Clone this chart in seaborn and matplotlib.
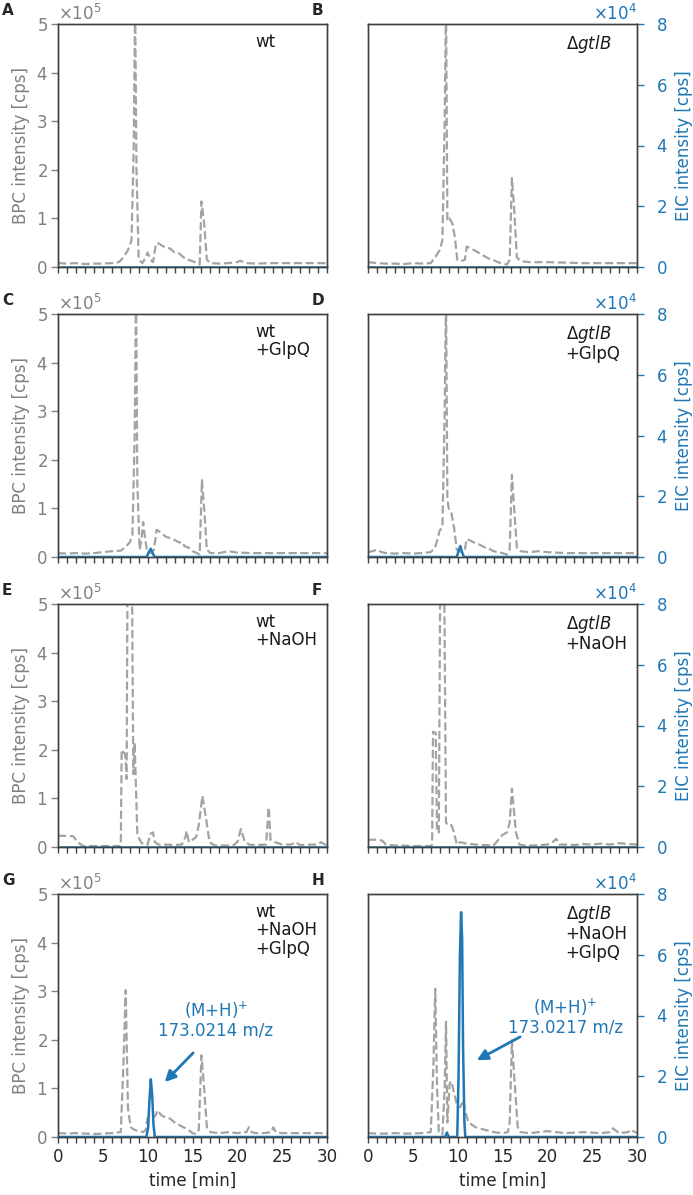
import numpy as np
import pandas as pd
import matplotlib
matplotlib.use("Agg")
import matplotlib.pyplot as plt
import seaborn as sns
from matplotlib.ticker import MultipleLocator

sns.set_style("ticks")
plt.rcParams["font.family"] = ["DejaVu Sans"]
plt.rcParams["mathtext.fontset"] = "dejavusans"

# ---------------- data (BPC in 1e5 cps, EIC in 1e4 cps, time in min) ----------------
A_bpc_t = [0, 1, 2, 3, 4, 5, 6, 6.8, 7.3, 7.8, 8.2, 8.45, 8.6, 8.75, 9.0, 9.4, 9.8, 10.0, 10.3, 10.6, 10.9, 11.1,
           11.5, 12.0, 12.5, 13.0, 13.5, 14.0, 14.5, 15.0, 15.5, 15.8, 16.0, 16.3, 16.6, 17.0, 18, 19, 20, 20.3,
           21, 22, 24, 26, 28, 30]
A_bpc_v = [0.08, 0.07, 0.08, 0.06, 0.07, 0.07, 0.08, 0.1, 0.2, 0.35, 0.55, 2.5, 5.5, 2.0, 0.15, 0.08, 0.2, 0.3,
           0.15, 0.1, 0.45, 0.5, 0.45, 0.4, 0.38, 0.3, 0.28, 0.2, 0.15, 0.12, 0.08, 0.05, 1.35, 0.9, 0.15, 0.08,
           0.07, 0.08, 0.1, 0.13, 0.08, 0.07, 0.08, 0.08, 0.08, 0.08]
A_eic_t = [0, 30]
A_eic_v = [0, 0]

B_bpc_t = [0, 1, 2, 3, 4, 5, 6, 7, 7.5, 8.0, 8.3, 8.55, 8.7, 8.85, 9.1, 9.4, 9.7, 9.95, 10.4, 10.8, 11.0, 11.5,
           12, 12.5, 13, 13.5, 14, 14.5, 15, 15.5, 15.8, 16.05, 16.3, 16.6, 17, 18, 20, 22, 24, 26, 28, 30]
B_bpc_v = [0.1, 0.08, 0.07, 0.07, 0.06, 0.08, 0.07, 0.08, 0.2, 0.35, 0.55, 3.0, 5.5, 0.95, 1.0, 0.9, 0.6, 0.15,
           0.12, 0.15, 0.42, 0.38, 0.33, 0.28, 0.22, 0.17, 0.14, 0.1, 0.07, 0.05, 0.15, 1.83, 1.2, 0.2, 0.12, 0.1,
           0.1, 0.09, 0.08, 0.08, 0.08, 0.08]
B_eic_t = [0, 30]
B_eic_v = [0, 0]

C_bpc_t = [0, 1, 2, 3, 4, 5, 6, 7, 7.5, 8.0, 8.3, 8.55, 8.7, 8.85, 9.1, 9.3, 9.5, 9.7, 9.95, 10.3, 10.7, 11.0,
           11.5, 12, 12.8, 13.5, 13.9, 14.1, 14.5, 15, 15.5, 15.8, 16.05, 16.3, 16.6, 17, 18, 19, 20, 22, 24, 26,
           28, 30]
C_bpc_v = [0.08, 0.07, 0.08, 0.07, 0.08, 0.1, 0.12, 0.13, 0.2, 0.3, 0.45, 2.5, 5.5, 1.5, 0.15, 0.35, 0.72, 0.4,
           0.1, 0.08, 0.15, 0.56, 0.5, 0.42, 0.37, 0.3, 0.3, 0.22, 0.2, 0.12, 0.08, 0.05, 1.58, 1.0, 0.15, 0.08,
           0.08, 0.12, 0.09, 0.08, 0.08, 0.08, 0.08, 0.08]
C_eic_t = [0, 9.9, 10.1, 10.35, 10.6, 10.8, 30]
C_eic_v = [0, 0, 0.15, 0.27, 0.1, 0, 0]

D_bpc_t = [0, 0.5, 1.0, 1.5, 2, 3, 4, 5, 6, 7, 7.5, 8.0, 8.3, 8.55, 8.7, 8.85, 9.0, 9.3, 9.6, 9.9, 10.4, 10.8,
           11.0, 11.5, 12, 12.5, 13, 13.5, 14, 14.5, 15, 15.5, 15.8, 16.05, 16.3, 16.6, 17, 18, 19, 20, 22, 24,
           26, 28, 30]
D_bpc_v = [0.1, 0.12, 0.15, 0.1, 0.08, 0.07, 0.08, 0.07, 0.08, 0.1, 0.2, 0.55, 0.6, 3.0, 5.5, 1.2, 1.0, 0.9,
           0.6, 0.15, 0.1, 0.15, 0.37, 0.33, 0.28, 0.25, 0.2, 0.17, 0.12, 0.1, 0.08, 0.05, 0.15, 1.69, 1.0, 0.2,
           0.12, 0.1, 0.12, 0.1, 0.08, 0.08, 0.08, 0.08, 0.08]
D_eic_t = [0, 9.9, 10.1, 10.3, 10.5, 10.7, 30]
D_eic_v = [0, 0, 0.2, 0.36, 0.15, 0, 0]

E_bpc_t = [0, 1, 1.7, 2.2, 2.8, 4, 6, 7.0, 7.1, 7.3, 7.5, 7.65, 7.75, 8.25, 8.4, 8.55, 8.85, 9.2, 9.5, 10.0,
           10.3, 10.6, 10.8, 11.2, 12, 13, 13.8, 14.2, 14.35, 14.6, 15.0, 15.4, 15.7, 16.1, 16.5, 16.9, 17.5,
           18.5, 19.5, 20.0, 20.4, 20.8, 21.3, 22, 23.2, 23.5, 23.7, 24.2, 25, 26, 26.5, 27, 28, 29, 29.3, 30]
E_bpc_v = [0.23, 0.23, 0.22, 0.1, 0.02, 0.02, 0.02, 0.02, 2.0, 1.95, 1.9, 1.4, 5.5, 5.5, 1.5, 2.15, 0.25, 0.12,
           0.05, 0.05, 0.27, 0.3, 0.1, 0.05, 0.05, 0.04, 0.05, 0.2, 0.33, 0.1, 0.15, 0.2, 0.45, 1.05, 0.6, 0.1,
           0.03, 0.03, 0.03, 0.1, 0.37, 0.12, 0.05, 0.04, 0.05, 0.82, 0.15, 0.1, 0.05, 0.05, 0.1, 0.04, 0.05,
           0.05, 0.1, 0.03]
E_eic_t = [0, 30]
E_eic_v = [0, 0]

F_bpc_t = [0, 1, 1.6, 2.0, 3, 4, 5, 6, 7.0, 7.15, 7.25, 7.55, 7.7, 7.9, 8.05, 8.5, 8.7, 8.9, 9.3, 9.6, 9.9, 10.3,
           11, 12, 13, 14, 15.0, 15.5, 15.8, 16.05, 16.5, 16.9, 17.5, 18.5, 20, 20.6, 21.0, 21.3, 22, 23, 24, 25,
           26, 27, 28, 29, 30]
F_bpc_v = [0.15, 0.15, 0.13, 0.05, 0.03, 0.03, 0.02, 0.02, 0.02, 0.05, 2.37, 2.35, 0.3, 0.3, 5.5, 5.5, 0.5,
           0.45, 0.45, 0.3, 0.05, 0.1, 0.07, 0.05, 0.04, 0.03, 0.25, 0.3, 0.5, 1.2, 0.3, 0.05, 0.03, 0.03, 0.05,
           0.1, 0.17, 0.05, 0.05, 0.04, 0.06, 0.05, 0.07, 0.05, 0.08, 0.06, 0.05]
F_eic_t = [0, 30]
F_eic_v = [0, 0]

G_bpc_t = [0, 1, 2, 3, 4, 5, 6, 7.0, 7.3, 7.55, 7.8, 8.1, 8.5, 9.0, 9.5, 9.8, 10.0, 10.3, 10.6, 10.9, 11.1, 11.5,
           12, 12.5, 13, 13.5, 14, 14.5, 15.0, 15.4, 15.7, 16.0, 16.3, 16.6, 17, 18, 19, 20, 21.0, 21.3, 21.6, 22,
           23, 23.8, 24.0, 24.3, 25, 26, 28, 30]
G_bpc_v = [0.08, 0.07, 0.08, 0.07, 0.06, 0.07, 0.08, 0.1, 1.5, 3.02, 0.6, 0.2, 0.15, 0.12, 0.1, 0.15, 0.4, 0.42,
           0.4, 0.45, 0.55, 0.45, 0.4, 0.38, 0.3, 0.25, 0.2, 0.15, 0.08, 0.06, 0.15, 1.68, 1.0, 0.2, 0.1, 0.08,
           0.1, 0.08, 0.1, 0.2, 0.1, 0.08, 0.08, 0.1, 0.2, 0.1, 0.08, 0.08, 0.08, 0.08]
G_eic_t = [0, 9.85, 10.05, 10.2, 10.35, 10.5, 10.65, 10.8, 30]
G_eic_v = [0, 0, 0.3, 1.2, 1.9, 1.4, 0.4, 0, 0]

H_bpc_t = [0, 1, 2, 3, 4, 5, 6, 7.0, 7.3, 7.5, 7.7, 7.9, 8.3, 8.55, 8.7, 8.85, 9.1, 9.3, 9.6, 10.0, 10.3, 10.6,
           10.9, 11.2, 12, 13, 14, 15, 15.6, 15.8, 16.05, 16.4, 16.7, 17, 18, 19, 20, 21, 22, 24, 26, 27, 27.3, 28,
           29, 29.3, 30]
H_bpc_v = [0.08, 0.07, 0.07, 0.08, 0.07, 0.07, 0.08, 0.1, 1.5, 3.05, 1.0, 0.1, 0.05, 1.0, 2.37, 0.3, 1.1, 1.15,
           0.9, 0.6, 0.62, 0.75, 0.5, 0.3, 0.2, 0.15, 0.1, 0.08, 0.1, 0.3, 1.99, 1.0, 0.2, 0.1, 0.08, 0.1, 0.12,
           0.1, 0.08, 0.1, 0.08, 0.1, 0.18, 0.08, 0.1, 0.15, 0.08]
H_eic_t = [0, 8.6, 8.8, 9.0, 9.95, 10.1, 10.25, 10.38, 10.5, 10.6, 10.75, 10.85, 30]
H_eic_v = [0, 0, 0.15, 0, 0, 2.0, 6.0, 7.4, 6.5, 3.0, 0.5, 0, 0]

panel_letters = ["A", "B", "C", "D", "E", "F", "G", "H"]
conditions = ["wt", r"$\Delta\mathit{gtlB}$",
              "wt\n+GlpQ", "$\\Delta\\mathit{gtlB}$\n+GlpQ",
              "wt\n+NaOH", "$\\Delta\\mathit{gtlB}$\n+NaOH",
              "wt\n+NaOH\n+GlpQ", "$\\Delta\\mathit{gtlB}$\n+NaOH\n+GlpQ"]
bpc_times = [A_bpc_t, B_bpc_t, C_bpc_t, D_bpc_t, E_bpc_t, F_bpc_t, G_bpc_t, H_bpc_t]
bpc_vals = [A_bpc_v, B_bpc_v, C_bpc_v, D_bpc_v, E_bpc_v, F_bpc_v, G_bpc_v, H_bpc_v]
eic_times = [A_eic_t, B_eic_t, C_eic_t, D_eic_t, E_eic_t, F_eic_t, G_eic_t, H_eic_t]
eic_vals = [A_eic_v, B_eic_v, C_eic_v, D_eic_v, E_eic_v, F_eic_v, G_eic_v, H_eic_v]

ion_labels = {6: "(M+H)$^{+}$\n173.0214 m/z", 7: "(M+H)$^{+}$\n173.0217 m/z"}
ion_text_pos = {6: (17.6, 2.0), 7: (22.0, 2.06)}          # (min, 1e5 cps)
arrow_from = {6: (15.07, 1.73), 7: (16.96, 2.06)}
arrow_to = {6: (11.9, 1.13), 7: (12.13, 1.58)}

bpc_yticks = [0, 1, 2, 3, 4, 5]
eic_yticks = [0, 2, 4, 6, 8]

# ---------------- style ----------------
GRAY_LINE = "#a3a3a3"
GRAY_TXT = "#808080"
BLUE = "#1f77b4"
SPINE = "#404040"
FS = 12

W, H = 693, 1195
fig = plt.figure(figsize=(W / 100, H / 100), dpi=100)

col_left = [58, 368]
ax_w = 269
row_top = [24, 314, 604, 894]
ax_h = 243

for i in range(8):
    r, c = divmod(i, 2)
    l = col_left[c] / W
    b = 1 - (row_top[r] + ax_h) / H
    ax = fig.add_axes([l, b, ax_w / W, ax_h / H])
    ax2 = ax.twinx()

    df_b = pd.DataFrame({"time": bpc_times[i], "bpc": np.array(bpc_vals[i]) * 1e5})
    df_e = pd.DataFrame({"time": eic_times[i], "eic": np.array(eic_vals[i]) * 1e4})
    sns.lineplot(data=df_b, x="time", y="bpc", ax=ax, color=GRAY_LINE, linestyle="--",
                 linewidth=1.6, estimator=None, sort=False)
    sns.lineplot(data=df_e, x="time", y="eic", ax=ax2, color=BLUE, linewidth=1.8,
                 estimator=None, sort=False)

    ax.set_xlim(0, 30)
    ax.set_ylim(0, 5e5)
    ax2.set_ylim(0, 8e4)
    ax.set_yticks([v * 1e5 for v in bpc_yticks])
    ax2.set_yticks([v * 1e4 for v in eic_yticks])
    ax.xaxis.set_major_locator(MultipleLocator(5))
    ax.xaxis.set_minor_locator(MultipleLocator(1))
    ax.ticklabel_format(axis="y", style="sci", scilimits=(0, 0), useMathText=True)
    ax2.ticklabel_format(axis="y", style="sci", scilimits=(0, 0), useMathText=True)

    for a in (ax, ax2):
        for s in a.spines.values():
            s.set_color(SPINE)
            s.set_linewidth(1.0)
    ax.tick_params(axis="x", which="both", direction="out", length=4.5, width=1.0,
                   colors=SPINE, labelsize=FS, labelcolor="#262626")
    ax.tick_params(axis="y", direction="out", length=5, width=1.0, colors=GRAY_TXT,
                   labelsize=FS, pad=2.5)
    ax2.tick_params(axis="y", direction="out", length=5, width=1.0, colors=BLUE,
                    labelsize=FS, pad=9)
    ax.yaxis.get_offset_text().set_color(GRAY_TXT)
    ax.yaxis.get_offset_text().set_fontsize(FS)
    ax2.yaxis.get_offset_text().set_color(BLUE)
    ax2.yaxis.get_offset_text().set_fontsize(FS)

    if c == 0:
        ax.set_ylabel("BPC intensity [cps]", color=GRAY_TXT, fontsize=FS)
        ax2.set_ylabel("")
        ax2.tick_params(axis="y", right=False, labelright=False)
        ax2.yaxis.get_offset_text().set_visible(False)
    else:
        ax.set_ylabel("")
        ax.tick_params(axis="y", left=False, labelleft=False)
        ax.yaxis.get_offset_text().set_visible(False)
        ax2.set_ylabel("EIC intensity [cps]", color=BLUE, fontsize=FS, labelpad=5)

    if r == 3:
        ax.set_xlabel("time [min]", fontsize=FS, color="#262626")
    else:
        ax.set_xlabel("")
        ax.tick_params(axis="x", labelbottom=False)

    ax.text(0.735, 0.965, conditions[i], transform=ax.transAxes, ha="left", va="top",
            fontsize=FS, color="#1a1a1a", linespacing=1.05)

    fig.text((col_left[c] - 56) / W, 1 - (row_top[r] - 21) / H, panel_letters[i],
             fontsize=11, fontweight="bold", ha="left", va="top")

    if i in ion_labels:
        tx, ty = ion_text_pos[i]
        ax.text(tx, ty * 1e5, ion_labels[i], ha="center", va="bottom", color=BLUE,
                fontsize=FS, linespacing=1.05, multialignment="center", zorder=5)
        fx, fy = arrow_from[i]
        ex, ey = arrow_to[i]
        ax.annotate("", xy=(ex, ey * 1e5), xytext=(fx, fy * 1e5),
                    arrowprops=dict(arrowstyle="-|>", color=BLUE, lw=2.0,
                                    mutation_scale=16, shrinkA=0, shrinkB=0))

fig.savefig("out.png", dpi=100)
